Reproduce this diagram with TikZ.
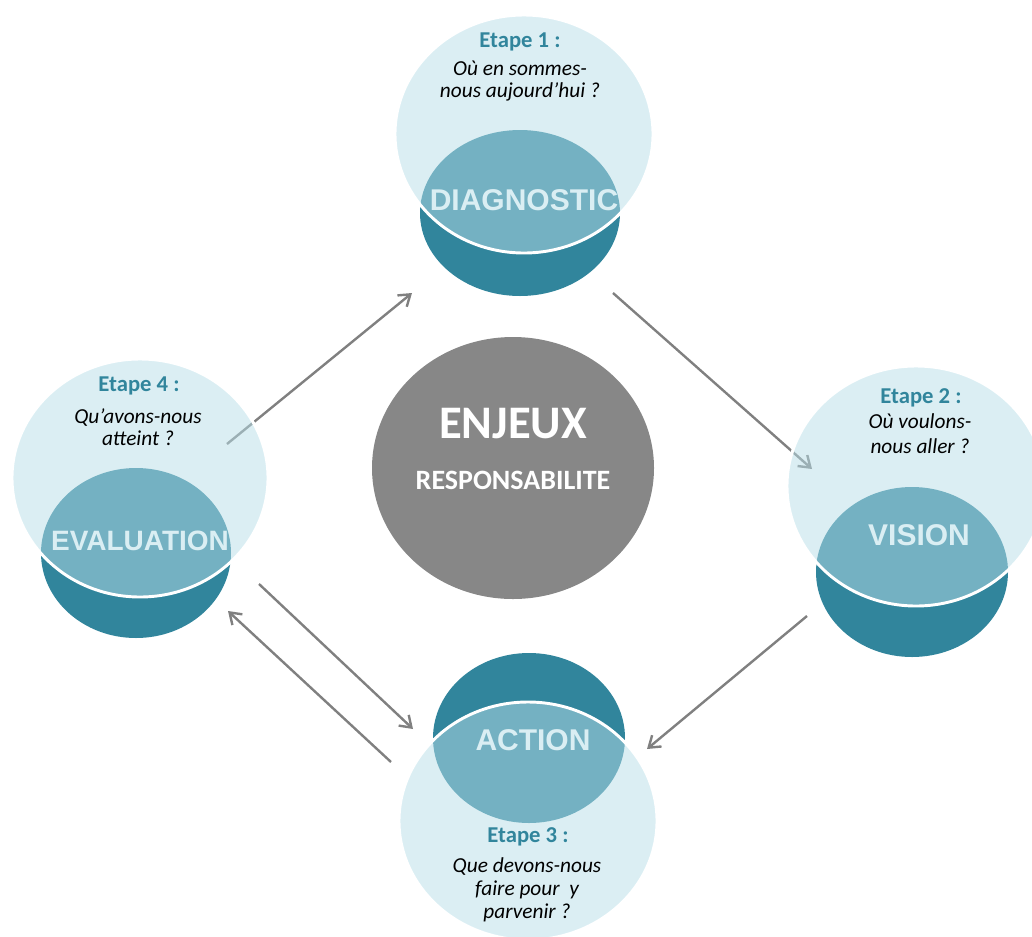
\documentclass[tikz,border=0pt]{standalone}
\usepackage{fontspec}
\setmainfont{Carlito}
\newfontfamily\labelfont{Liberation Sans}
\usetikzlibrary{arrows.meta,shapes.geometric}
\definecolor{darkteal}{HTML}{31859C}
\definecolor{lightaqua}{HTML}{B7DEE8}
\definecolor{labeltxt}{HTML}{DAEEF3}
\definecolor{centergray}{HTML}{878787}
\definecolor{arrowgray}{HTML}{808080}
\begin{document}
\begin{tikzpicture}[x=0.75pt,y=-0.75pt,
  darkdisc/.style={ellipse, fill=darkteal, inner sep=0pt, outer sep=0pt},
  lightdisc/.style={ellipse, fill=lightaqua, fill opacity=0.5, draw=white, draw opacity=1, line width=2.2pt, inner sep=0pt},
  coredisc/.style={ellipse, fill=centergray, inner sep=0pt},
  flow/.style={draw=arrowgray, line width=1.8pt, -{Straight Barb[length=8pt,width=11pt]}},
  stagelabel/.style={anchor=base, inner sep=0pt, font=\labelfont\bfseries\fontsize{22.5}{26}\selectfont, text=labeltxt},
  etape/.style={anchor=base, inner sep=0pt, font=\bfseries\fontsize{17}{20}\selectfont, text=darkteal},
  question/.style={anchor=base, inner sep=0pt, align=center, text=black},
  coretext/.style={anchor=base, inner sep=0pt, text=white}
]
\useasboundingbox (0,0) rectangle (1032,936);

% central disc
\node[coredisc, minimum width=211.5pt, minimum height=196.5pt] (core) at (513,468) {};

% dark discs
\node[darkdisc, minimum width=150pt, minimum height=124.5pt] (diagD) at (520,213) {};
\node[darkdisc, minimum width=144pt, minimum height=127.5pt] (visD) at (912,572) {};
\node[darkdisc, minimum width=142.5pt, minimum height=127.5pt] (evalD) at (136,553) {};
\node[darkdisc, minimum width=144pt, minimum height=127.5pt] (actD) at (529,738) {};

% arrow end points
\coordinate (e1s) at (227,444); \coordinate (e1t) at (412,293);
\coordinate (e2s) at (613,293); \coordinate (e2t) at (812,469);
\coordinate (e3s) at (807,616); \coordinate (e3t) at (647,749);
\coordinate (e4s) at (259,584); \coordinate (e4t) at (413,729);
\coordinate (e5s) at (391,762); \coordinate (e5t) at (228,611);

\draw[flow] (e1s) -- (e1t);
\draw[flow] (e2s) -- (e2t);
\draw[flow] (e3s) -- (e3t);
\draw[flow] (e4s) -- (e4t);
\draw[flow] (e5s) -- (e5t);

% light discs
\node[lightdisc, minimum width=193.5pt, minimum height=178.5pt] (diagL) at (524,134) {};
\node[lightdisc, minimum width=193.5pt, minimum height=180pt] (visL) at (916,486) {};
\node[lightdisc, minimum width=192pt, minimum height=178.5pt] (evalL) at (140,478) {};
\node[lightdisc, minimum width=193.5pt, minimum height=178.5pt] (actL) at (528,821) {};

% central texts
\node[coretext, font=\bfseries\fontsize{35}{40}\selectfont] (enjeux) at (513,438) {ENJEUX};
\node[coretext, font=\bfseries\fontsize{21}{24}\selectfont] (resp) at (513,489) {RESPONSABILITE};

% stage labels
\node[stagelabel] (diagT) at (524,210) {DIAGNOSTIC};
\node[stagelabel] (visT) at (919,545) {VISION};
\node[stagelabel, font=\labelfont\bfseries\fontsize{21}{24}\selectfont] (evalT) at (140,550) {EVALUATION};
\node[stagelabel] (actT) at (533,750) {ACTION};

% etapes
\node[etape] (et1) at (520,47) {Etape 1 :};
\node[etape] (et2) at (921,403) {Etape 2 :};
\node[etape] (et3) at (528,842) {Etape 3 :};
\node[etape] (et4) at (139,391) {Etape 4 :};

% questions (anchored on the baseline of their last line)
\node[question, font=\itshape\fontsize{16}{16.5}\selectfont] (q1) at (520,97) {Où en sommes-\\nous aujourd’hui ?};
\node[question, font=\itshape\fontsize{16}{18.75}\selectfont] (q2) at (920,453) {Où voulons-\\nous aller ?};
\node[question, font=\itshape\fontsize{16}{16.5}\selectfont] (q4) at (138,445) {Qu’avons-nous\\atteint ?};
\node[question, font=\itshape\fontsize{16}{17}\selectfont] (q3) at (527,918) {Que devons-nous\\faire pour~ y\\parvenir ?};
\end{tikzpicture}
\end{document}
